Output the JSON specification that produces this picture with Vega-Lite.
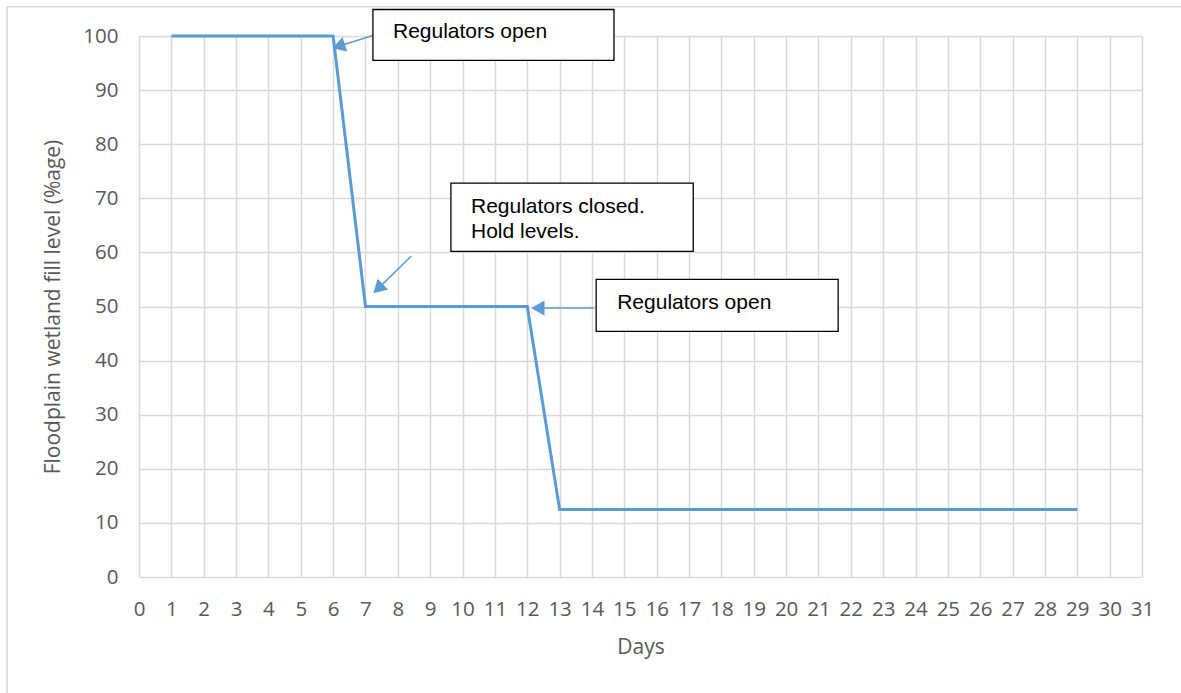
{
  "$schema": "https://vega.github.io/schema/vega-lite/v6.json",
  "width": 1003,
  "height": 541,
  "autosize": {"type": "none"},
  "padding": {"left": 139, "top": 36, "right": 39, "bottom": 116},
  "background": "white",
  "config": {
    "view": {"stroke": null},
    "font": "Open Sans",
    "axis": {
      "labelFont": "Open Sans",
      "titleFont": "Open Sans",
      "labelColor": "#595959",
      "titleColor": "#595959",
      "labelFontSize": 20.5,
      "titleFontSize": 21,
      "titleFontWeight": "normal",
      "gridColor": "#d9d9d9",
      "gridWidth": 1.5,
      "gridOpacity": 1,
      "domain": false,
      "ticks": false
    }
  },
  "datasets": {
    "level": [
      {"day": 1, "fill": 100},
      {"day": 6, "fill": 100},
      {"day": 7, "fill": 50},
      {"day": 12, "fill": 50},
      {"day": 13, "fill": 12.5},
      {"day": 29, "fill": 12.5}
    ],
    "frame": [
      {"day": -4.08, "day2": 40, "fill": -40, "fill2": 105.4}
    ],
    "boxes": [
      {"id": "a", "day": 7.23, "day2": 14.68, "fill": 95.5, "fill2": 104.9},
      {"id": "b", "day": 9.64, "day2": 17.13, "fill": 60.2, "fill2": 72.8},
      {"id": "c", "day": 14.13, "day2": 21.61, "fill": 45.4, "fill2": 55.0}
    ],
    "labels": [
      {"day": 7.85, "fill": 100.8, "label": "Regulators open"},
      {"day": 10.26, "fill": 68.4, "label": "Regulators closed."},
      {"day": 10.26, "fill": 63.8, "label": "Hold levels."},
      {"day": 14.78, "fill": 50.6, "label": "Regulators open"}
    ],
    "arrows": [
      {"id": "a", "day": 7.23, "fill": 100.1, "day2": 6.17, "fill2": 98.1},
      {"id": "b", "day": 8.41, "fill": 59.3, "day2": 7.39, "fill2": 53.3},
      {"id": "c", "day": 14.07, "fill": 49.7, "day2": 12.33, "fill2": 49.7}
    ],
    "heads": [
      {"id": "a", "day": 6.17, "fill": 98.1},
      {"id": "b", "day": 7.39, "fill": 53.3},
      {"id": "c", "day": 12.33, "fill": 49.7}
    ]
  },
  "encoding": {
    "x": {
      "field": "day", "type": "quantitative",
      "scale": {"domain": [0, 31], "nice": false, "zero": false},
      "axis": {"values": [0,1,2,3,4,5,6,7,8,9,10,11,12,13,14,15,16,17,18,19,20,21,22,23,24,25,26,27,28,29,30,31], "labelPadding": 22, "title": "Days", "titlePadding": 17, "labelFlush": false, "labelOverlap": false}
    },
    "y": {
      "field": "fill", "type": "quantitative",
      "scale": {"domain": [0, 100], "nice": false},
      "axis": {"values": [0,10,20,30,40,50,60,70,80,90,100], "labelPadding": 21, "title": "Floodplain wetland fill level (%age)", "titlePadding": 19}
    }
  },
  "layer": [
    {
      "data": {"name": "frame"},
      "mark": {"type": "rect", "fill": null, "stroke": "#d9d9d9", "strokeWidth": 1.5},
      "encoding": {
        "x2": {"field": "day2"},
        "y2": {"field": "fill2"}
      }
    },
    {
      "data": {"name": "level"},
      "mark": {"type": "line", "color": "#5B9BD5", "strokeWidth": 3}
    },
    {
      "data": {"name": "arrows"},
      "mark": {"type": "rule", "color": "#5B9BD5", "strokeWidth": 1.5},
      "encoding": {
        "x2": {"field": "day2"},
        "y2": {"field": "fill2"}
      }
    },
    {
      "data": {"name": "heads"},
      "transform": [{"filter": "datum.id == 'a'"}],
      "mark": {"type": "point", "shape": "triangle-up", "filled": true, "opacity": 1, "color": "#5B9BD5", "size": 230, "angle": 252}
    },
    {
      "data": {"name": "heads"},
      "transform": [{"filter": "datum.id == 'b'"}],
      "mark": {"type": "point", "shape": "triangle-up", "filled": true, "opacity": 1, "color": "#5B9BD5", "size": 230, "angle": 226}
    },
    {
      "data": {"name": "heads"},
      "transform": [{"filter": "datum.id == 'c'"}],
      "mark": {"type": "point", "shape": "triangle-up", "filled": true, "opacity": 1, "color": "#5B9BD5", "size": 230, "angle": 270}
    },
    {
      "data": {"name": "boxes"},
      "mark": {"type": "rect", "fill": "white", "stroke": "black", "strokeWidth": 1.3},
      "encoding": {
        "x2": {"field": "day2"},
        "y2": {"field": "fill2"}
      }
    },
    {
      "data": {"name": "labels"},
      "mark": {"type": "text", "font": "Liberation Sans", "fontSize": 21, "color": "black", "align": "left", "baseline": "middle"},
      "encoding": {
        "text": {"field": "label"}
      }
    }
  ]
}
